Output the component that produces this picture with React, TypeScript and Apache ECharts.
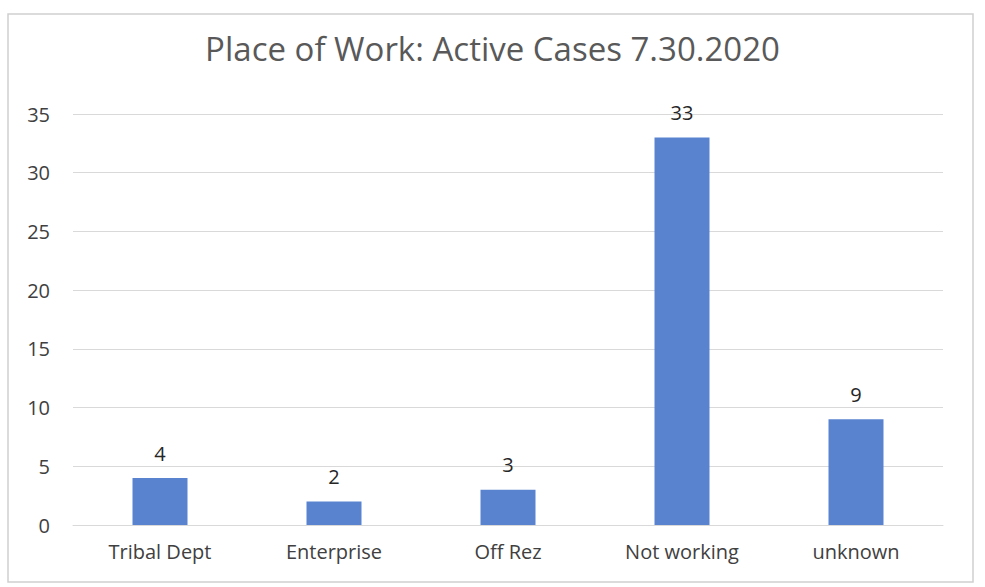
import React, { useEffect, useRef } from "react";
import * as echarts from "echarts";

const categories = ["Tribal Dept", "Enterprise", "Off Rez", "Not working", "unknown"];
const activeCases = [4, 2, 3, 33, 9];
const titleText = "Place of Work: Active Cases 7.30.2020";

export default function App() {
  const ref = useRef<HTMLDivElement>(null);
  useEffect(() => {
    const chart = echarts.init(ref.current!, null, { renderer: "svg" });
    const font = "'Open Sans', 'Noto Sans', sans-serif";
    chart.setOption({
      animation: false,
      backgroundColor: "#ffffff",
      title: {
        text: titleText,
        left: "center",
        top: 27,
        textStyle: { fontFamily: font, fontSize: 33, fontWeight: "normal", color: "#595959" },
      },
      graphic: [
        {
          type: "rect",
          shape: { x: 8, y: 14, width: 965, height: 568 },
          style: { fill: "none", stroke: "#cfcfcf", lineWidth: 1.5 },
          silent: true,
        },
      ],
      grid: { left: 73, right: 42, top: 114, bottom: 62, containLabel: false },
      xAxis: {
        type: "category",
        data: categories,
        axisLine: { show: true, lineStyle: { color: "#d9d9d9" } },
        axisTick: { show: false },
        axisLabel: { fontFamily: font, fontSize: 20, color: "#404040", margin: 16 },
      },
      yAxis: {
        type: "value",
        min: 0,
        max: 35,
        interval: 5,
        axisLine: { show: false },
        axisTick: { show: false },
        splitLine: { lineStyle: { color: "#d9d9d9", width: 1 } },
        axisLabel: { fontFamily: font, fontSize: 20, color: "#404040", margin: 23 },
      },
      series: [
        {
          type: "bar",
          data: activeCases,
          barWidth: 55,
          itemStyle: { color: "#5a83cf" },
          label: {
            show: true,
            position: "top",
            distance: 15,
            fontFamily: font,
            fontSize: 20,
            color: "#262626",
          },
        },
      ],
    });
    return () => chart.dispose();
  }, []);
  return (
    <div
      ref={ref}
      style={{ position: "fixed", left: 0, top: 0, width: 985, height: 587 }}
    />
  );
}
